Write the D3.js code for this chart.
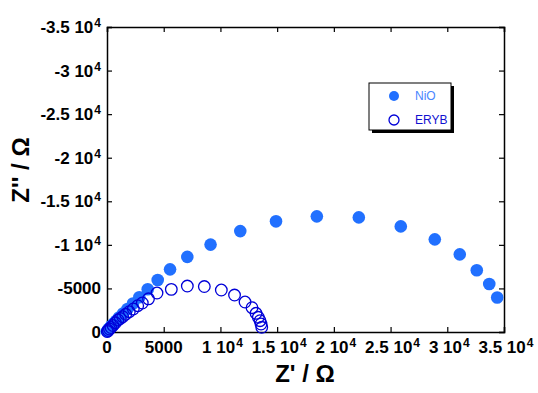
<!DOCTYPE html>
<html>
<head>
<meta charset="utf-8">
<script src="https://cdn.jsdelivr.net/npm/d3@7"></script>
<style>
  body { margin: 0; background: white; }
  svg { display: block; font-family: "Liberation Sans", Arial, sans-serif; }
</style>
</head>
<body>
<div id="chart"></div>
<script>
// series, Z' (ohm) and Z'' (ohm)
const nioX = [18, 71, 150, 265, 397, 573, 794, 1058, 1411, 1808, 2290, 2850, 3590, 4470, 5560, 7080, 9130, 11750, 14900, 18500, 22200, 25900, 28900, 31100, 32600, 33700, 34400]
const nioY = [-80, -195, -344, -516, -720, -975, -1280, -1660, -2120, -2640, -3270, -3980, -4900, -5960, -7190, -8620, -10030, -11580, -12700, -13270, -13150, -12120, -10630, -8910, -7080, -5500, -3960]

const erybX = [26, 115, 220, 353, 529, 750, 970, 1173, 1384, 1649, 1966, 2319, 2707, 3113, 3659, 4409, 5670, 7081, 8580, 10079, 11243, 12169, 12786, 13139, 13342, 13492, 13580, 13641]
const erybY = [-57, -172, -344, -516, -745, -1055, -1376, -1548, -1755, -2030, -2328, -2638, -3016, -3326, -3807, -4473, -4897, -5275, -5218, -4817, -4243, -3440, -2787, -2145, -1686, -1296, -917, -539]

const xTicks = [0, 5000, 10000, 15000, 20000, 25000, 30000, 35000]
const yTicks = [0, -5000, -10000, -15000, -20000, -25000, -30000, -35000]
const seriesNames = ["NiO", "ERYB"]

const config = {
  "w": 538,
  "h": 393,
  "left": 107,
  "right": 504,
  "top": 27,
  "bottom": 332,
  "tick": 5,
}

const nioColor = "#2170ff"
const erybColor = "#0000d8"

const x_scale = d3.scaleLinear()
                  .domain([0, 35000])
                  .range([config["left"], config["right"]])

const y_scale = d3.scaleLinear()
                  .domain([0, -35000])
                  .range([config["bottom"], config["top"]])

const svg = d3.select("#chart")
              .append("svg")
              .attr("width", config["w"])
              .attr("height", config["h"])

// tick label like "1.5 10^4"
function tickLabel(sel, v) {
  if (Math.abs(v) < 10000) {
    sel.text(String(v))
    return
  }
  const m = v / 10000
  sel.append("tspan").text(m + " 10")
  sel.append("tspan")
     .attr("dy", -6)
     .attr("dx", 1)
     .attr("font-size", "12px")
     .text("4")
}

const xAxis = d3.axisBottom(x_scale).tickValues(xTicks).tickSize(-config["tick"]).tickFormat("")
const xTop = d3.axisTop(x_scale).tickValues(xTicks).tickSize(-config["tick"]).tickFormat("")
const yAxis = d3.axisLeft(y_scale).tickValues(yTicks).tickSize(-config["tick"]).tickFormat("")
const yRight = d3.axisRight(y_scale).tickValues(yTicks).tickSize(-config["tick"]).tickFormat("")

svg.append("g")
   .attr("transform", "translate(0," + config["bottom"] + ")")
   .call(xAxis)
svg.append("g")
   .attr("transform", "translate(0," + config["top"] + ")")
   .call(xTop)
svg.append("g")
   .attr("transform", "translate(" + config["left"] + ",0)")
   .call(yAxis)
svg.append("g")
   .attr("transform", "translate(" + config["right"] + ",0)")
   .call(yRight)

svg.selectAll(".domain")
   .attr("stroke", "black")
   .attr("stroke-width", 1.5)
svg.selectAll(".tick line")
   .attr("stroke", "black")
   .attr("stroke-width", 1.2)

// tick labels
svg.append("g")
   .selectAll("text")
   .data(xTicks)
   .enter()
   .append("text")
   .attr("x", d => x_scale(d) + (Math.abs(d) < 10000 ? 0 : 2))
   .attr("y", 353)
   .attr("text-anchor", "middle")
   .attr("font-size", "17px")
   .attr("font-weight", "bold")
   .each(function(d) { tickLabel(d3.select(this), d) })

svg.append("g")
   .selectAll("text")
   .data(yTicks)
   .enter()
   .append("text")
   .attr("x", 101)
   .attr("y", d => y_scale(d) + 6)
   .attr("text-anchor", "end")
   .attr("font-size", "17px")
   .attr("font-weight", "bold")
   .each(function(d) { tickLabel(d3.select(this), d) })

// axis titles
svg.append("text")
   .attr("x", 305)
   .attr("y", 382)
   .attr("text-anchor", "middle")
   .attr("font-size", "24px")
   .attr("font-weight", "bold")
   .text("Z' / \u03a9")

svg.append("text")
   .attr("transform", "translate(29,170) rotate(-90)")
   .attr("text-anchor", "middle")
   .attr("font-size", "24px")
   .attr("font-weight", "bold")
   .text("Z'' / \u03a9")

// points
const nio = nioX.map((d, i) => [d, nioY[i]])
const eryb = erybX.map((d, i) => [d, erybY[i]])

svg.append("g")
   .selectAll("circle")
   .data(nio)
   .enter()
   .append("circle")
   .attr("cx", d => x_scale(d[0]))
   .attr("cy", d => y_scale(d[1]))
   .attr("r", 6.3)
   .attr("fill", nioColor)

svg.append("g")
   .selectAll("circle")
   .data(eryb)
   .enter()
   .append("circle")
   .attr("cx", d => x_scale(d[0]))
   .attr("cy", d => y_scale(d[1]))
   .attr("r", 5.8)
   .attr("fill", "none")
   .attr("stroke", erybColor)
   .attr("stroke-width", 1.3)

// legend
const legend = svg.append("g")
legend.append("rect")
      .attr("x", 372).attr("y", 86)
      .attr("width", 82).attr("height", 47)
      .attr("fill", "black")
legend.append("rect")
      .attr("x", 369).attr("y", 83)
      .attr("width", 82).attr("height", 47)
      .attr("fill", "white")
      .attr("stroke", "black")
      .attr("stroke-width", 1)

legend.selectAll("circle")
      .data(seriesNames)
      .enter()
      .append("circle")
      .attr("cx", 394)
      .attr("cy", (d, i) => 96 + i * 24)
      .attr("r", 5)
      .attr("fill", (d, i) => i == 0 ? nioColor : "none")
      .attr("stroke", (d, i) => i == 0 ? "none" : erybColor)
      .attr("stroke-width", 1.3)

legend.selectAll("text")
      .data(seriesNames)
      .enter()
      .append("text")
      .attr("x", 415)
      .attr("y", (d, i) => 100 + i * 24)
      .attr("font-size", "12px")
      .attr("fill", (d, i) => i == 0 ? "#4a86ff" : "#1010d0")
      .text(d => d)
</script>
</body>
</html>
